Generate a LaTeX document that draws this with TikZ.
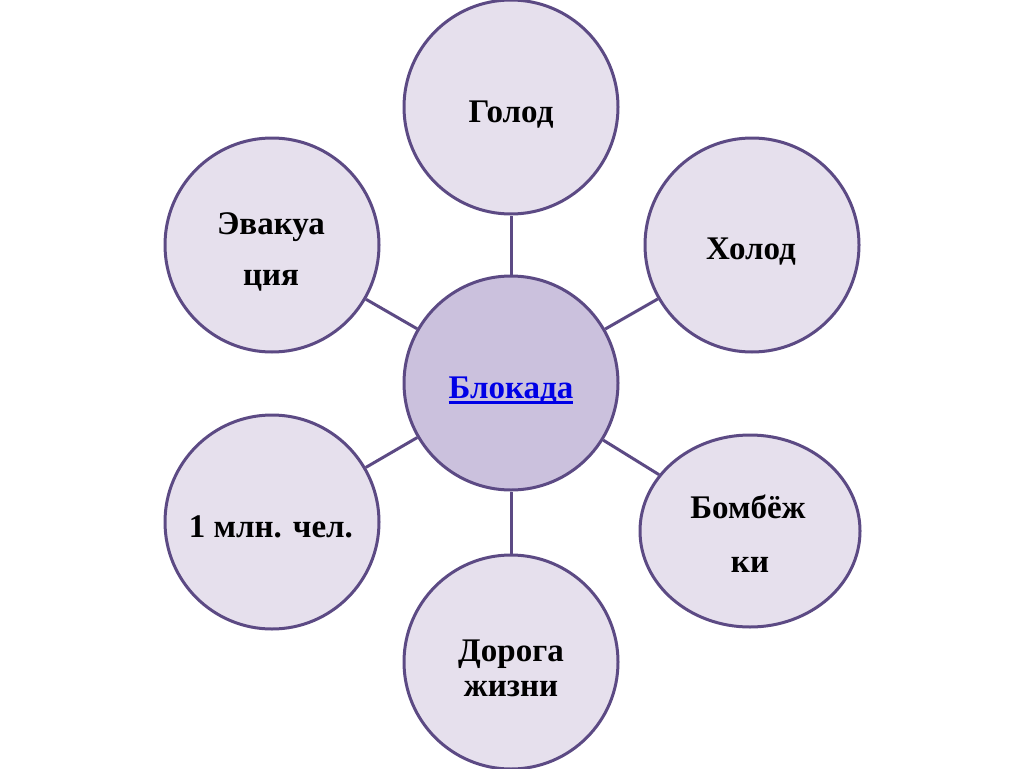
\documentclass[tikz,border=0pt]{standalone}
\usepackage{fontspec}
\setmainfont{Liberation Serif}
\usetikzlibrary{shapes.geometric}
\definecolor{rim}{RGB}{92,74,132}
\definecolor{petal}{RGB}{230,224,237}
\definecolor{hub}{RGB}{203,193,221}
\definecolor{linkblue}{RGB}{0,0,230}
\newcommand{\ulinktext}[1]{\setbox0\hbox{#1}\rlap{\rule[-6pt]{\wd0}{3pt}}\box0}
\tikzset{
  petalnode/.style={circle, draw=rim, line width=3pt, fill=petal, inner sep=0pt,
    minimum size=214pt},
  hubnode/.style={petalnode, fill=hub},
  spoke/.style={draw=rim, line width=3pt},
  txt/.style={anchor=base, inner sep=0pt, font=\fontsize{33}{40}\selectfont\bfseries}
}
\begin{document}
\begin{tikzpicture}[x=1pt,y=-1pt]
\useasboundingbox (0,0) rectangle (1024,768);
\node[hubnode] (hub) at (511,383) {};
\node[petalnode] (golod) at (511,107) {};
\node[petalnode] (holod) at (752,245) {};
\node[petalnode, ellipse, minimum width=220pt, minimum height=192pt] (bomb) at (750,531) {};
\node[petalnode] (doroga) at (511,662) {};
\node[petalnode] (mln) at (272,522) {};
\node[petalnode] (evak) at (272,245) {};
\foreach \n in {golod,holod,bomb,doroga,mln,evak}
  \draw[spoke] (hub) -- (\n);
\node[txt] (hubT) at (511,398) {\color{linkblue}\ulinktext{Блокада}};
\node[txt] (golodT) at (511,122) {Голод};
\node[txt] (holodT) at (751,259) {Холод};
\node[txt] (bombT1) at (748,518) {Бомбёж};
\node[txt] (bombT2) at (750,572) {ки};
\node[txt] (dorogaT1) at (511,661) {Дорога};
\node[txt] (dorogaT2) at (511,696) {жизни};
\node[txt] (mlnT) at (271,537) {1 млн. чел.};
\node[txt] (evakT1) at (271,234) {Эвакуа};
\node[txt] (evakT2) at (271,285) {ция};
\end{tikzpicture}
\end{document}
